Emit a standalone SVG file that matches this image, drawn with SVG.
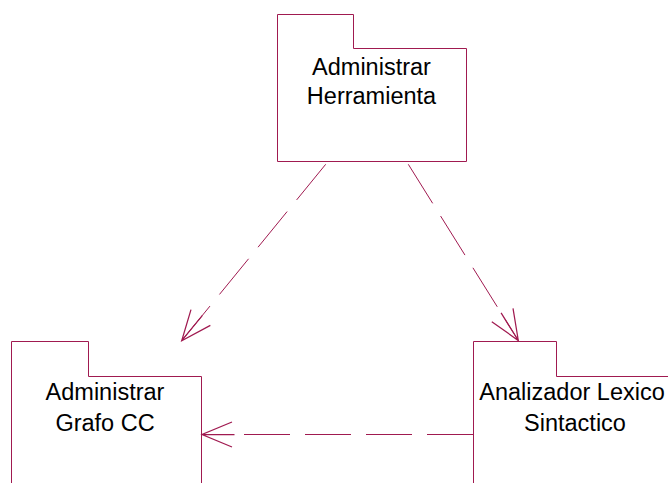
<svg xmlns="http://www.w3.org/2000/svg" width="668" height="483" viewBox="0 0 668 483">
  <style>
    .pkg { fill: #FFFFFF; stroke: #A01A50; stroke-width: 1; }
    .lbl { font-family: "Liberation Sans", Arial, sans-serif; font-size: 23.5px; fill: #000000; text-anchor: middle; }
    .dep { fill: none; stroke: #A01A50; stroke-width: 1; stroke-dasharray: 46 15; marker-end: url(#open); }
  </style>
  <defs>
    <marker id="open" markerUnits="userSpaceOnUse" markerWidth="40" markerHeight="40" viewBox="-30 -15 32 30" refX="0" refY="0" orient="auto" overflow="visible">
      <path d="M -24 -10 L 0 0 L -24 10 M -26 0 L 0 0" fill="none" stroke="#A01A50" stroke-width="1" stroke-dasharray="none"/>
    </marker>
  </defs>
  <rect width="668" height="483" fill="#FFFFFF"/>

  <!-- package: Administrar Herramienta -->
  <g id="administrar-herramienta">
    <path class="pkg" d="M 277.5 14.5 H 353.5 V 48.5 H 466.5 V 161.5 H 277.5 Z"/>
    <text class="lbl" x="371.5" y="75">Administrar</text>
    <text class="lbl" x="371.5" y="104">Herramienta</text>
  </g>

  <!-- package: Administrar Grafo CC -->
  <g id="administrar-grafo-cc">
    <path class="pkg" d="M 11.5 341.5 H 88.5 V 376.5 H 201.5 V 495 H 11.5 Z"/>
    <text class="lbl" x="105" y="400">Administrar</text>
    <text class="lbl" x="105" y="431">Grafo CC</text>
  </g>

  <!-- package: Analizador Lexico Sintactico -->
  <g id="analizador-lexico-sintactico">
    <path class="pkg" d="M 473.5 341.5 H 556.5 V 376.5 H 680 V 495 H 473.5 Z"/>
    <text class="lbl" x="572" y="400">Analizador Lexico</text>
    <text class="lbl" x="575" y="431">Sintactico</text>
  </g>

  <!-- dependencies -->
  <g id="connectors">
    <path class="dep" d="M 325.7 164.3 L 181.7 340.7"/>
    <path class="dep" d="M 408.3 164.3 L 518.3 340.5"/>
    <path class="dep" d="M 473 434.5 L 202 434.5"/>
  </g>
</svg>
